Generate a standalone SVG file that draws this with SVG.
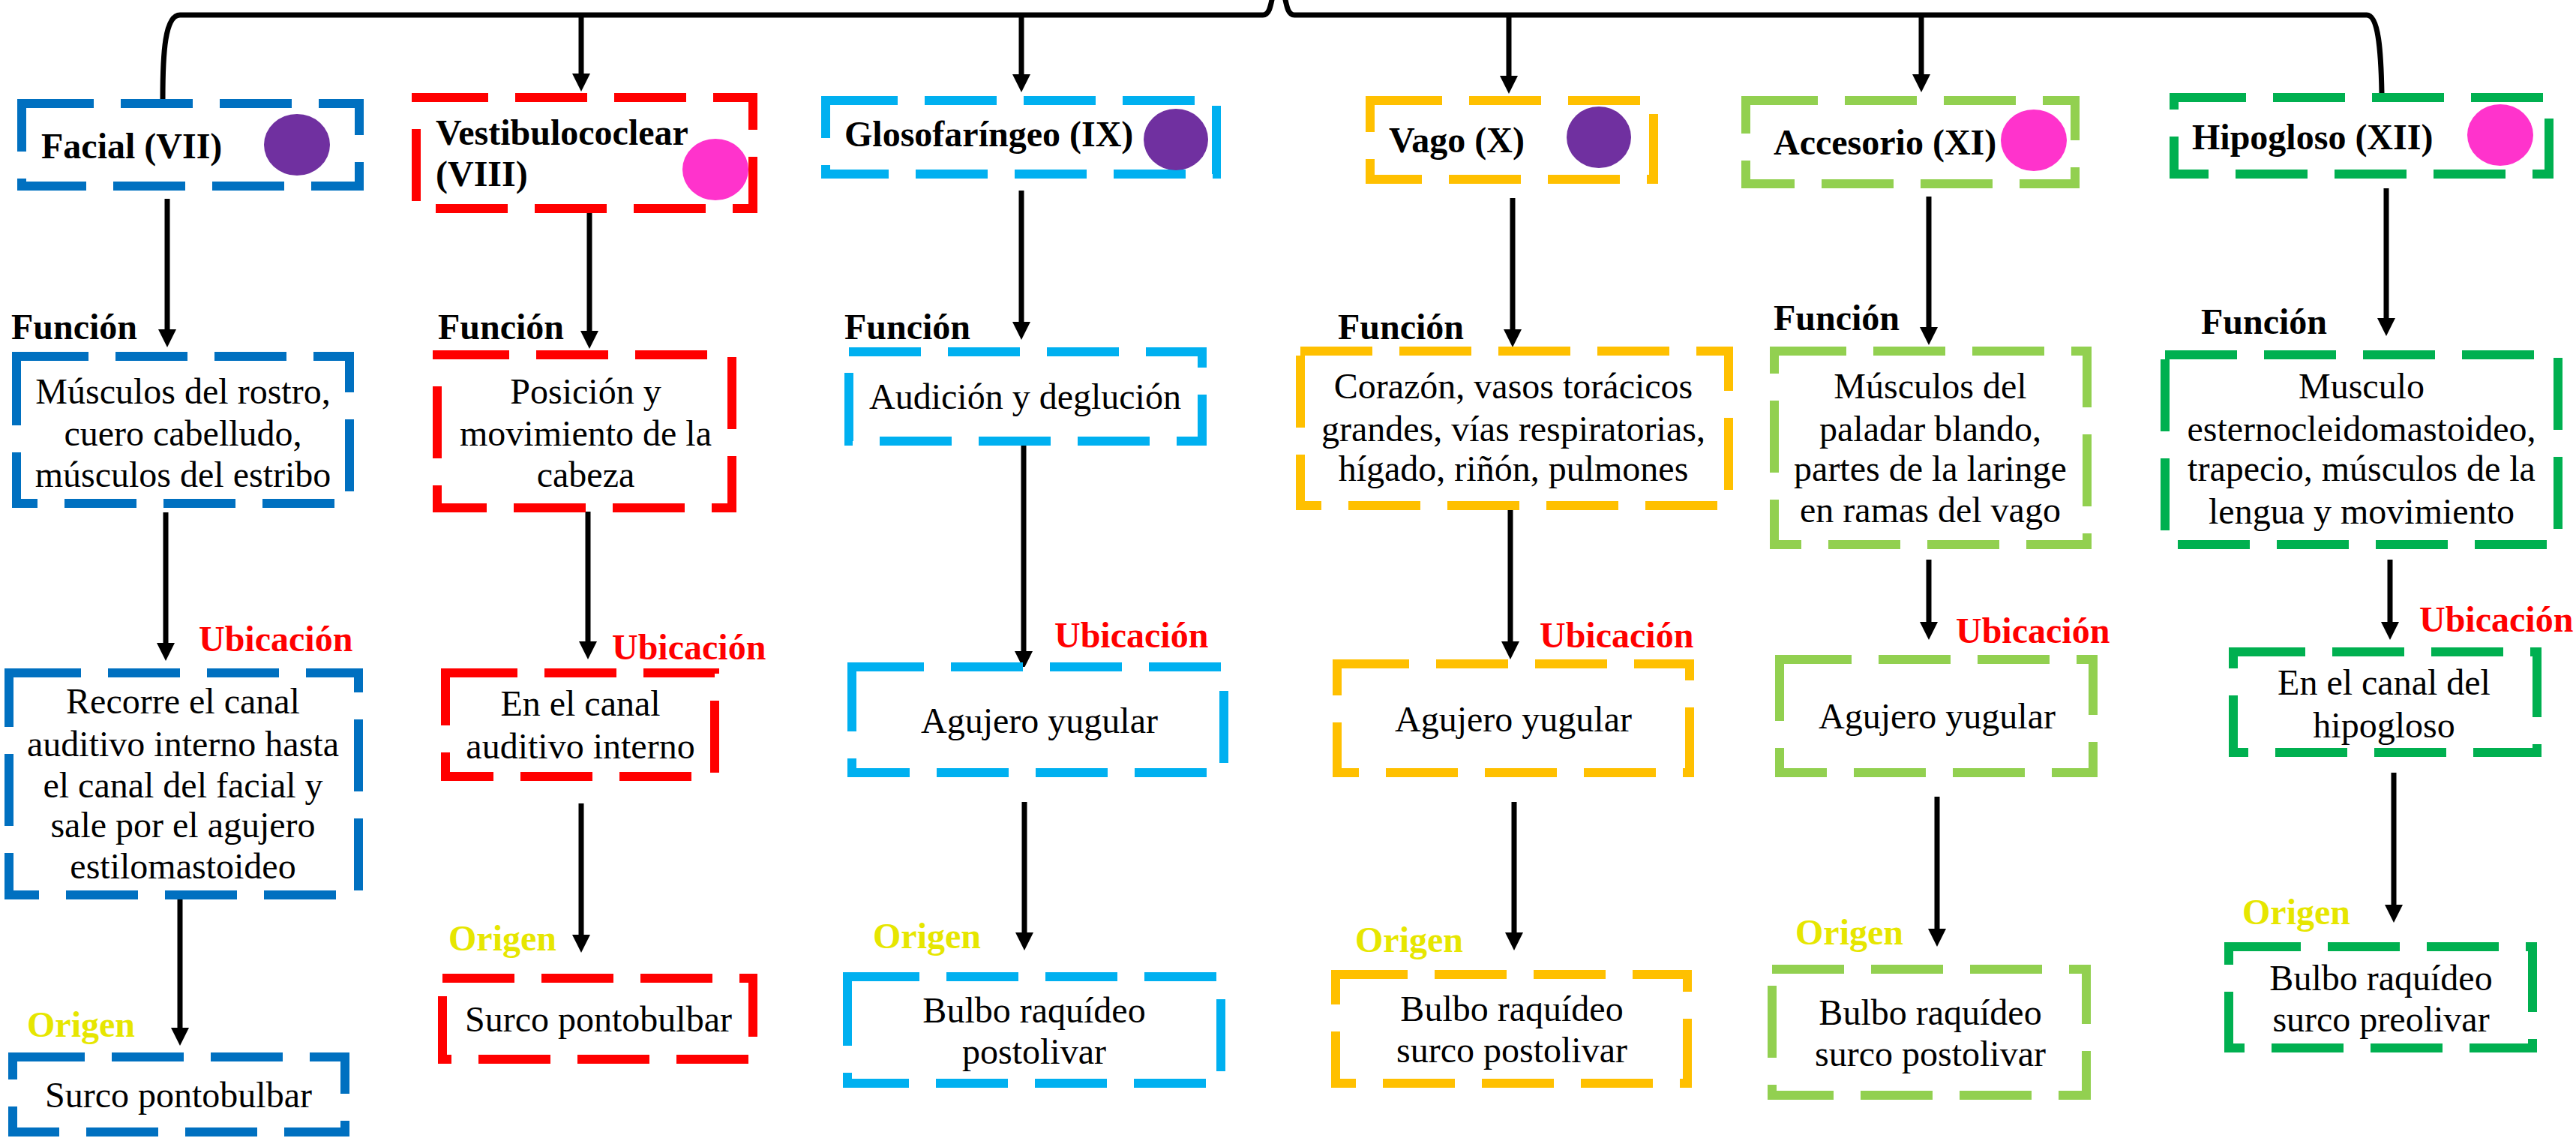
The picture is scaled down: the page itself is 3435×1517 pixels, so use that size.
<svg xmlns="http://www.w3.org/2000/svg" width="3435" height="1517" viewBox="0 0 3435 1517">
<defs>
<marker id="ah" viewBox="0 0 24 24" refX="4" refY="12" markerWidth="24" markerHeight="24" markerUnits="userSpaceOnUse" orient="auto"><path d="M0,0 L24,12 L0,24 z" fill="#000"/></marker>
<style>
.box{fill:#fff;stroke-width:12;stroke-dasharray:96 36}
.b1{stroke:#0070C0}.b2{stroke:#FF0000}.b3{stroke:#00B0F0}.b4{stroke:#FFC000}.b5{stroke:#92D050}.b6{stroke:#00B050}
text{font-family:"Liberation Serif","Times New Roman",serif;font-size:48px;fill:#000}
.t{font-weight:bold}
.c{text-anchor:middle}
.fun{font-weight:bold}
.ubi{font-weight:bold;fill:#FF0000}
.ori{font-weight:bold;fill:#E6E600}
.pu{fill:#7030A0}.pk{fill:#FF33CC}
.ar{stroke:#000;stroke-width:7;fill:none;marker-end:url(#ah)}
</style>
</defs>
<rect width="3435" height="1517" fill="#fff"/>

<g id="connectors">
<path d="M217 132 C217 70 220 20 240 20 L1684 20 C1692 20 1694 10 1697 -5 L1705 -25 L1713 -5 C1716 10 1718 20 1726 20 L3156 20 C3172 20 3175 70 3176 124" stroke="#000" stroke-width="7" fill="none" stroke-linejoin="round"/>
<line class="ar" x1="775" y1="20" x2="775" y2="102"/>
<line class="ar" x1="1362" y1="20" x2="1362" y2="103"/>
<line class="ar" x1="2012" y1="20" x2="2012" y2="105"/>
<line class="ar" x1="2562" y1="20" x2="2562" y2="103"/>

<line class="ar" x1="223" y1="265" x2="223" y2="443"/>
<line class="ar" x1="221" y1="683" x2="221" y2="861"/>
<line class="ar" x1="240" y1="1196" x2="240" y2="1374"/>

<line class="ar" x1="786" y1="284" x2="786" y2="445"/>
<line class="ar" x1="784" y1="682" x2="784" y2="859"/>
<line class="ar" x1="775" y1="1071" x2="775" y2="1250"/>

<line class="ar" x1="1362" y1="254" x2="1362" y2="433"/>
<line class="ar" x1="1365" y1="594" x2="1365" y2="872"/>
<line class="ar" x1="1366" y1="1069" x2="1366" y2="1247"/>

<line class="ar" x1="2017" y1="264" x2="2017" y2="443"/>
<line class="ar" x1="2014" y1="680" x2="2014" y2="859"/>
<line class="ar" x1="2019" y1="1069" x2="2019" y2="1247"/>

<line class="ar" x1="2572" y1="262" x2="2572" y2="440"/>
<line class="ar" x1="2572" y1="746" x2="2572" y2="833"/>
<line class="ar" x1="2583" y1="1062" x2="2583" y2="1242"/>

<line class="ar" x1="3182" y1="251" x2="3182" y2="428"/>
<line class="ar" x1="3187" y1="746" x2="3187" y2="833"/>
<line class="ar" x1="3192" y1="1030" x2="3192" y2="1210"/>
</g>

<g id="facial">
<rect class="box b1" x="29" y="138" width="450" height="110"/>
<text class="t" x="55" y="211">Facial (VII)</text>
<ellipse class="pu" cx="396" cy="193" rx="44" ry="41"/>
</g>
<g id="facial-funcion">
<text class="fun" x="15" y="452">Función</text>
<rect class="box b1" x="22" y="475" width="444" height="196"/>
<text class="c" x="244" y="538">Músculos del rostro,</text>
<text class="c" x="244" y="594">cuero cabelludo,</text>
<text class="c" x="244" y="649">músculos del estribo</text>
</g>
<g id="facial-ubicacion">
<text class="ubi" x="265" y="868">Ubicación</text>
<rect class="box b1" x="12" y="897" width="466" height="296"/>
<text class="c" x="244" y="951">Recorre el canal</text>
<text class="c" x="244" y="1008">auditivo interno hasta</text>
<text class="c" x="244" y="1063">el canal del facial y</text>
<text class="c" x="244" y="1116">sale por el agujero</text>
<text class="c" x="244" y="1171">estilomastoideo</text>
</g>
<g id="facial-origen">
<text class="ori" x="36" y="1382">Origen</text>
<rect class="box b1" x="17" y="1409" width="443" height="100"/>
<text class="c" x="238" y="1476">Surco pontobulbar</text>
</g>

<g id="vestibulococlear">
<rect class="box b2" x="555" y="130" width="449" height="148"/>
<text class="t" x="581" y="193">Vestibulococlear</text>
<text class="t" x="581" y="248">(VIII)</text>
<ellipse class="pk" cx="954" cy="226" rx="44" ry="41"/>
</g>
<g id="vestibulococlear-funcion">
<text class="fun" x="584" y="452">Función</text>
<rect class="box b2" x="583" y="473" width="393" height="204"/>
<text class="c" x="781" y="538">Posición y</text>
<text class="c" x="781" y="594">movimiento de la</text>
<text class="c" x="781" y="649">cabeza</text>
</g>
<g id="vestibulococlear-ubicacion">
<text class="ubi" x="816" y="879">Ubicación</text>
<rect class="box b2" x="594" y="897" width="359" height="138"/>
<text class="c" x="774" y="954">En el canal</text>
<text class="c" x="774" y="1011">auditivo interno</text>
</g>
<g id="vestibulococlear-origen">
<text class="ori" x="598" y="1267">Origen</text>
<rect class="box b2" x="590" y="1304" width="414" height="108"/>
<text class="c" x="798" y="1375">Surco pontobulbar</text>
</g>

<g id="glosofaringeo">
<rect class="box b3" x="1101" y="134" width="521" height="98"/>
<text class="t" x="1126" y="195">Glosofaríngeo (IX)</text>
<ellipse class="pu" cx="1568" cy="186" rx="43" ry="41"/>
</g>
<g id="glosofaringeo-funcion">
<text class="fun" x="1126" y="452">Función</text>
<rect class="box b3" x="1132" y="469" width="471" height="119"/>
<text class="c" x="1367" y="545">Audición y deglución</text>
</g>
<g id="glosofaringeo-ubicacion">
<text class="ubi" x="1406" y="863">Ubicación</text>
<rect class="box b3" x="1136" y="889" width="496" height="141"/>
<text class="c" x="1386" y="977">Agujero yugular</text>
</g>
<g id="glosofaringeo-origen">
<text class="ori" x="1164" y="1264">Origen</text>
<rect class="box b3" x="1130" y="1302" width="498" height="142"/>
<text class="c" x="1379" y="1363">Bulbo raquídeo</text>
<text class="c" x="1379" y="1418">postolivar</text>
</g>

<g id="vago">
<rect class="box b4" x="1827" y="134" width="378" height="105"/>
<text class="t" x="1852" y="203">Vago (X)</text>
<ellipse class="pu" cx="2132" cy="183" rx="43" ry="41"/>
</g>
<g id="vago-funcion">
<text class="fun" x="1784" y="452">Función</text>
<rect class="box b4" x="1734" y="468" width="571" height="206"/>
<text class="c" x="2018" y="531">Corazón, vasos torácicos</text>
<text class="c" x="2018" y="588">grandes, vías respiratorias,</text>
<text class="c" x="2018" y="641">hígado, riñón, pulmones</text>
</g>
<g id="vago-ubicacion">
<text class="ubi" x="2053" y="863">Ubicación</text>
<rect class="box b4" x="1783" y="885" width="470" height="145"/>
<text class="c" x="2018" y="975">Agujero yugular</text>
</g>
<g id="vago-origen">
<text class="ori" x="1807" y="1269">Origen</text>
<rect class="box b4" x="1781" y="1299" width="469" height="145"/>
<text class="c" x="2016" y="1361">Bulbo raquídeo</text>
<text class="c" x="2016" y="1416">surco postolivar</text>
</g>

<g id="accesorio">
<rect class="box b5" x="2328" y="134" width="439" height="111"/>
<text class="t" x="2365" y="206">Accesorio (XI)</text>
<ellipse class="pk" cx="2712" cy="187" rx="44" ry="41"/>
</g>
<g id="accesorio-funcion">
<text class="fun" x="2365" y="440">Función</text>
<rect class="box b5" x="2366" y="468" width="417" height="258"/>
<text class="c" x="2574" y="531">Músculos del</text>
<text class="c" x="2574" y="588">paladar blando,</text>
<text class="c" x="2574" y="641">partes de la laringe</text>
<text class="c" x="2574" y="696">en ramas del vago</text>
</g>
<g id="accesorio-ubicacion">
<text class="ubi" x="2608" y="857">Ubicación</text>
<rect class="box b5" x="2373" y="879" width="418" height="151"/>
<text class="c" x="2583" y="971">Agujero yugular</text>
</g>
<g id="accesorio-origen">
<text class="ori" x="2394" y="1259">Origen</text>
<rect class="box b5" x="2363" y="1292" width="419" height="168"/>
<text class="c" x="2574" y="1366">Bulbo raquídeo</text>
<text class="c" x="2574" y="1421">surco postolivar</text>
</g>

<g id="hipogloso">
<rect class="box b6" x="2899" y="130" width="500" height="102"/>
<text class="t" x="2923" y="199">Hipogloso (XII)</text>
<ellipse class="pk" cx="3334" cy="180" rx="44" ry="41"/>
</g>
<g id="hipogloso-funcion">
<text class="fun" x="2935" y="445">Función</text>
<rect class="box b6" x="2887" y="473" width="524" height="253"/>
<text class="c" x="3149" y="531">Musculo</text>
<text class="c" x="3149" y="588">esternocleidomastoideo,</text>
<text class="c" x="3149" y="641">trapecio, músculos de la</text>
<text class="c" x="3149" y="698">lengua y movimiento</text>
</g>
<g id="hipogloso-ubicacion">
<text class="ubi" x="3226" y="842">Ubicación</text>
<rect class="box b6" x="2978" y="869" width="405" height="134"/>
<text class="c" x="3179" y="926">En el canal del</text>
<text class="c" x="3179" y="983">hipogloso</text>
</g>
<g id="hipogloso-origen">
<text class="ori" x="2990" y="1232">Origen</text>
<rect class="box b6" x="2972" y="1262" width="405" height="135"/>
<text class="c" x="3175" y="1320">Bulbo raquídeo</text>
<text class="c" x="3175" y="1375">surco preolivar</text>
</g>
</svg>
